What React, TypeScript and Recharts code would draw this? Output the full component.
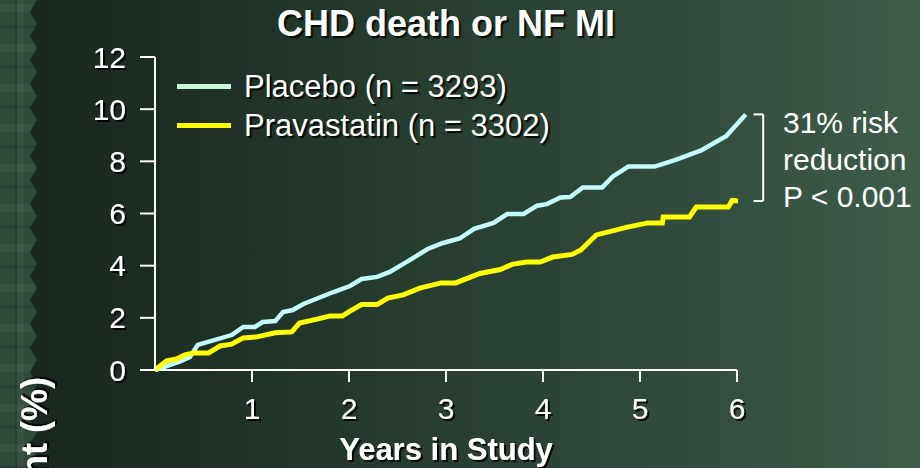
import React from 'react';
import { LineChart, Line, XAxis, YAxis, ReferenceLine, Legend } from 'recharts';

// ---- data ----
const placeboT = [0, 0.26, 0.36, 0.44, 0.79, 0.91, 1.03, 1.11, 1.24, 1.32, 1.42, 1.53, 1.84, 2.01, 2.13, 2.29, 2.42, 2.63, 2.81, 2.97, 3.14, 3.29, 3.49, 3.63, 3.8, 3.94, 4.04, 4.18, 4.28, 4.41, 4.61, 4.72, 4.88, 5.15, 5.36, 5.63, 5.89, 6.09];
const placeboV = [0, 0.33, 0.5, 0.96, 1.34, 1.65, 1.65, 1.84, 1.88, 2.22, 2.3, 2.53, 2.99, 3.22, 3.49, 3.57, 3.76, 4.22, 4.64, 4.87, 5.04, 5.41, 5.64, 5.98, 5.98, 6.3, 6.36, 6.61, 6.63, 7.0, 7.0, 7.42, 7.8, 7.8, 8.05, 8.42, 8.97, 9.8];
const pravaT = [0, 0.12, 0.22, 0.31, 0.39, 0.55, 0.67, 0.79, 0.91, 1.05, 1.24, 1.41, 1.49, 1.67, 1.8, 1.93, 2.01, 2.13, 2.29, 2.4, 2.56, 2.73, 2.95, 3.1, 3.35, 3.56, 3.68, 3.83, 3.97, 4.1, 4.3, 4.39, 4.55, 4.87, 5.08, 5.23, 5.24, 5.51, 5.58, 5.91, 5.95, 6.01];
const pravaV = [0, 0.35, 0.42, 0.58, 0.65, 0.65, 0.92, 0.99, 1.23, 1.27, 1.43, 1.46, 1.8, 1.95, 2.07, 2.07, 2.26, 2.51, 2.51, 2.76, 2.88, 3.14, 3.34, 3.34, 3.7, 3.85, 4.05, 4.14, 4.14, 4.33, 4.43, 4.6, 5.18, 5.48, 5.64, 5.64, 5.87, 5.87, 6.25, 6.25, 6.5, 6.48];

const xTicks = [1, 2, 3, 4, 5, 6];
const yTicks = [0, 2, 4, 6, 8, 10, 12];
const seriesNames = ['Placebo (n = 3293)', 'Pravastatin (n = 3302)'];
const seriesColors = ['#c2fcfc', '#ffff00'];
const legendColors = ['#c8f9d6', '#ffff00'];
const titleText = 'CHD death or NF MI';
const xLabel = 'Years in Study';
const yLabel = 'Patients with event (%)';
const noteLines = ['31% risk', 'reduction', 'P < 0.001'];

const placeboData = placeboT.map((t, i) => ({ t, v: placeboV[i] }));
const pravaData = pravaT.map((t, i) => ({ t, v: pravaV[i] }));
const placeboEnd = placeboV[placeboV.length - 1];
const pravaEnd = pravaV[pravaV.length - 1];

const FONT = '"Liberation Sans", Arial, Helvetica, sans-serif';
const SHADOW = '2px 2px 1px rgba(0,0,0,0.85)';

const XTick = (props: any) => {
  const { x, y, payload } = props;
  return (
    <text x={x} y={y} dy="0.71em" textAnchor="middle" fill="#fff" fontSize={30} fontFamily={FONT} filter="url(#txtShadow)">
      {payload.value}
    </text>
  );
};

const YTick = (props: any) => {
  const { x, y, payload } = props;
  return (
    <text x={x} y={y} dy="0.355em" textAnchor="end" fill="#fff" fontSize={30} fontFamily={FONT} filter="url(#txtShadow)">
      {payload.value}
    </text>
  );
};

const renderLegend = (props: any) => {
  const payload = props.payload || [];
  return (
    <div style={{ display: 'flex', flexDirection: 'column', fontFamily: FONT }}>
      {payload.map((e: any, i: number) => (
        <div key={i} style={{ display: 'flex', alignItems: 'center', height: 39, whiteSpace: 'nowrap' }}>
          <span style={{ display: 'inline-block', width: 54, height: 5, background: legendColors[i], marginRight: 13 }} />
          <span style={{ color: '#fff', fontSize: 31, lineHeight: '39px', textShadow: SHADOW }}>{e.value}</span>
        </div>
      ))}
    </div>
  );
};

const zigzag = (() => {
  const pts: string[] = ['0px 0px'];
  for (let y = 0; y <= 480; y += 24) {
    pts.push(`37px ${y}px`);
    pts.push(`30px ${y + 12}px`);
  }
  pts.push('0px 480px');
  return `polygon(${pts.join(',')})`;
})();

export default function App() {
  return (
    <div style={{ position: 'absolute', left: 0, top: 0, width: 920, height: 468, overflow: 'hidden', fontFamily: FONT,
      background: 'linear-gradient(90deg, #1a261f 0%, #1c2a22 12%, #243a2d 40%, #2f493a 70%, #3e5d4b 100%)' }}>
      <svg width={0} height={0} style={{ position: 'absolute' }}>
        <defs>
          <filter id="txtShadow" x="-20%" y="-20%" width="140%" height="140%">
            <feDropShadow dx="2" dy="2" stdDeviation="0.6" floodColor="#000" floodOpacity="0.85" />
          </filter>
        </defs>
      </svg>
      <div style={{ position: 'absolute', left: 0, top: 0, width: 40, height: 468, clipPath: zigzag,
        background: 'repeating-linear-gradient(0deg, rgba(0,0,0,0.12) 0 3px, transparent 3px 16px, rgba(255,255,255,0.04) 16px 24px, transparent 24px 40px), repeating-linear-gradient(90deg, transparent 0 15px, rgba(0,0,0,0.12) 15px 17px, rgba(255,255,255,0.04) 17px 24px, transparent 24px 40px), #2f4b3a' }} />
      <div style={{ position: 'absolute', left: 0, top: 6, width: 892, textAlign: 'center', color: '#fff', fontWeight: 'bold', fontSize: 36, lineHeight: '36px', textShadow: SHADOW, whiteSpace: 'nowrap' }}>
        {titleText}
      </div>
      <div style={{ position: 'absolute', left: 783, top: 104, color: '#fff', fontSize: 30, lineHeight: '37px', whiteSpace: 'nowrap' }}>
        {noteLines.map((l, i) => <div key={i}>{l}</div>)}
      </div>
      <div style={{ position: 'absolute', left: 0, top: 0 }}>
        <LineChart width={920} height={468} margin={{ top: 57, right: 173.3, bottom: 38, left: 0 }}>
          <XAxis type="number" dataKey="t" domain={[0, 6.1]} ticks={xTicks} axisLine={false}
            tickLine={{ stroke: '#fff', strokeWidth: 2 }} tickSize={12} tickMargin={16} height={60}
            tick={<XTick />} interval={0} allowDecimals={false}
            label={{ content: (p: any) => {
              const vb = p.viewBox || { x: 155, y: 370, width: 591.7 };
              return (
                <text x={vb.x + (vb.width * 3) / 6.1} y={vb.y + 90} textAnchor="middle" fill="#fff" fontSize={31} fontWeight="bold" fontFamily={FONT} filter="url(#txtShadow)">
                  {xLabel}
                </text>
              );
            } }} />
          <YAxis type="number" domain={[0, 12]} ticks={yTicks} width={155} interval={0}
            axisLine={{ stroke: '#fff', strokeWidth: 2 }} tickLine={{ stroke: '#fff', strokeWidth: 2 }}
            tickSize={15} tickMargin={14} tick={<YTick />}
            label={{ content: (p: any) => {
              const vb = p.viewBox || { x: 0, y: 57, width: 155, height: 313 };
              return (
                <text transform={`translate(47, ${vb.y + vb.height + 7}) rotate(-90)`} textAnchor="end" fill="#fff" fontSize={36} fontWeight="bold" fontFamily={FONT} filter="url(#txtShadow)">
                  {yLabel}
                </text>
              );
            } }} />
          <ReferenceLine segment={[{ x: 0, y: 0 }, { x: 6, y: 0 }]} stroke="#fff" strokeWidth={2} ifOverflow="visible" />
          <ReferenceLine segment={[{ x: 6.17, y: placeboEnd }, { x: 6.27, y: placeboEnd }]} stroke="#fff" strokeWidth={2} ifOverflow="visible" />
          <ReferenceLine segment={[{ x: 6.27, y: placeboEnd }, { x: 6.27, y: pravaEnd }]} stroke="#fff" strokeWidth={2} ifOverflow="visible" />
          <ReferenceLine segment={[{ x: 6.17, y: pravaEnd }, { x: 6.27, y: pravaEnd }]} stroke="#fff" strokeWidth={2} ifOverflow="visible" />
          <Line data={placeboData} dataKey="v" name={seriesNames[0]} type="linear" stroke={seriesColors[0]} strokeWidth={4.5} dot={false} activeDot={false} isAnimationActive={false} />
          <Line data={pravaData} dataKey="v" name={seriesNames[1]} type="linear" stroke={seriesColors[1]} strokeWidth={5} dot={false} activeDot={false} isAnimationActive={false} />
          <Legend layout="vertical" align="center" verticalAlign="middle" content={renderLegend}
            wrapperStyle={{ position: 'absolute', left: 177, top: 67, width: 'auto', height: 'auto' }} />
        </LineChart>
      </div>
    </div>
  );
}
